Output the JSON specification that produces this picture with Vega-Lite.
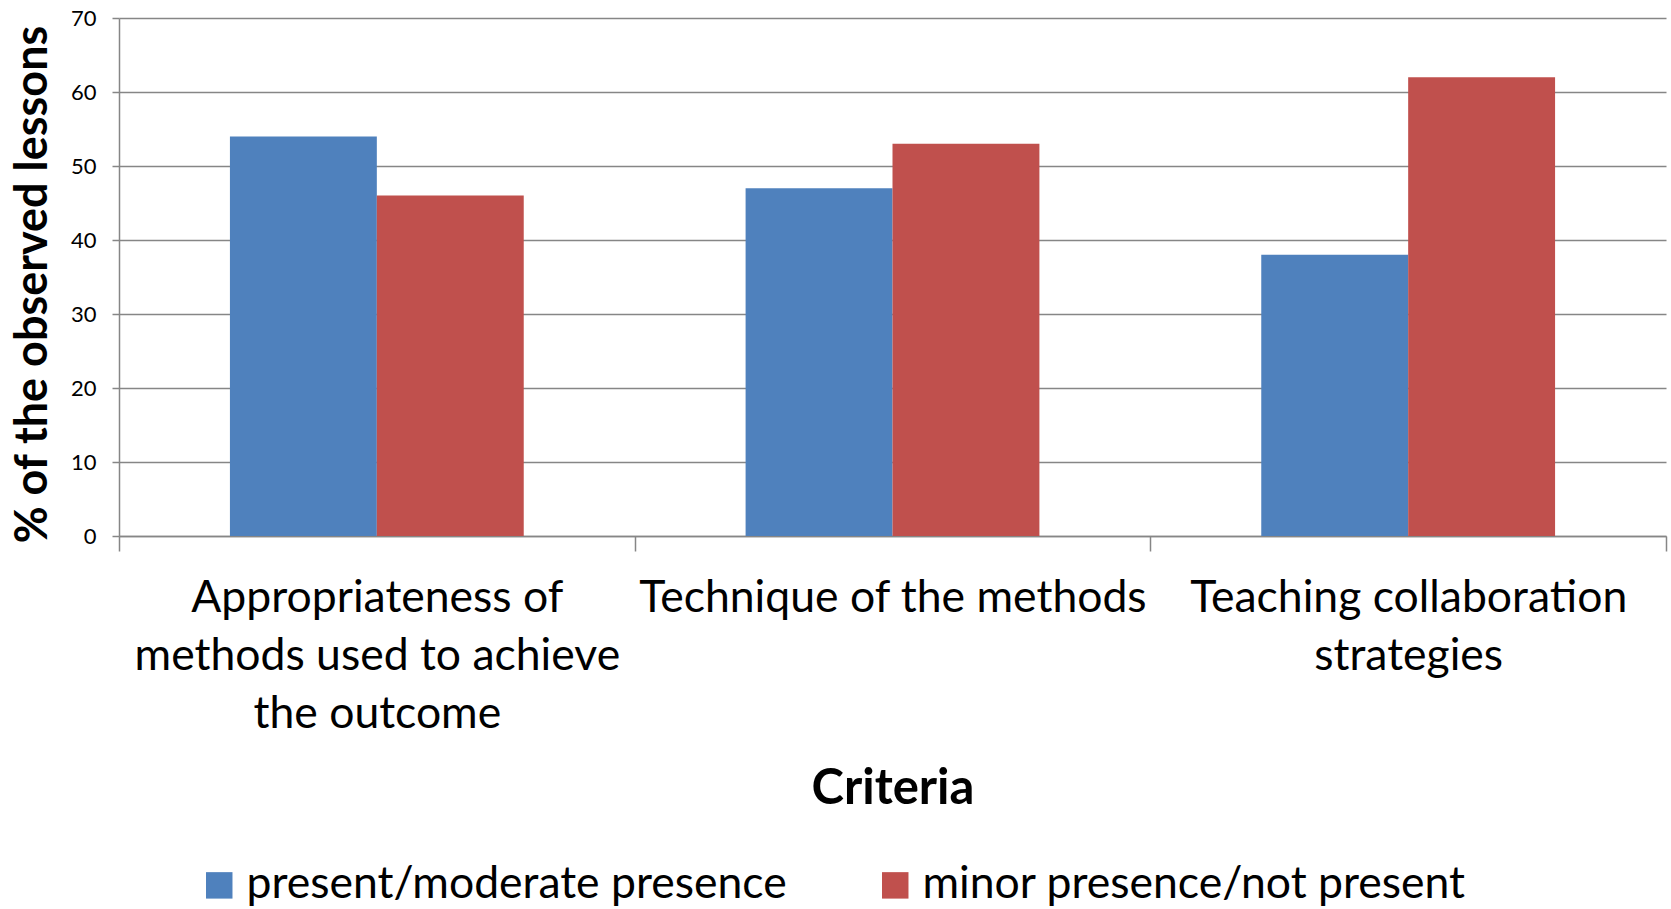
{
  "$schema": "https://vega.github.io/schema/vega-lite/v6.json",
  "width": 1547,
  "height": 518,
  "autosize": {"type": "none"},
  "padding": {"left": 119, "top": 18, "right": 5, "bottom": 373},
  "background": "white",
  "config": {"font": "Lato", "view": {"stroke": null}},
  "data": {
    "values": [
      {"criterion": "Appropriateness of methods used to achieve the outcome", "series": "present/moderate presence", "value": 54},
      {"criterion": "Appropriateness of methods used to achieve the outcome", "series": "minor presence/not present", "value": 46},
      {"criterion": "Technique of the methods", "series": "present/moderate presence", "value": 47},
      {"criterion": "Technique of the methods", "series": "minor presence/not present", "value": 53},
      {"criterion": "Teaching collaboration strategies", "series": "present/moderate presence", "value": 38},
      {"criterion": "Teaching collaboration strategies", "series": "minor presence/not present", "value": 62}
    ]
  },
  "mark": {"type": "bar"},
  "encoding": {
    "x": {
      "field": "criterion",
      "type": "nominal",
      "sort": ["Appropriateness of methods used to achieve the outcome", "Technique of the methods", "Teaching collaboration strategies"],
      "scale": {"paddingInner": 0, "paddingOuter": 0},
      "axis": {
        "title": "Criteria",
        "labelAngle": 0,
        "labelExpr": "datum.label == 'Appropriateness of methods used to achieve the outcome' ? ['Appropriateness of', 'methods used to achieve', 'the outcome'] : datum.label == 'Teaching collaboration strategies' ? ['Teaching collaboration', 'strategies'] : datum.label",
        "labelFont": "Lato",
        "labelFontSize": 44.5,
        "labelColor": "black",
        "labelLineHeight": 58,
        "labelPadding": 25,
        "labelLimit": 0,
        "labelBaseline": "top",
        "tickBand": "extent",
        "tickSize": 15,
        "tickColor": "#868686",
        "tickWidth": 1.5,
        "domainColor": "#868686",
        "domainWidth": 1.5,
        "grid": false,
        "titleFont": "Lato",
        "titleFontSize": 49,
        "titleFontWeight": "bold",
        "titleColor": "black",
        "titleY": 252,
        "titleBaseline": "middle"
      }
    },
    "xOffset": {
      "field": "series",
      "type": "nominal",
      "sort": ["present/moderate presence", "minor presence/not present"],
      "scale": {"paddingInner": 0, "paddingOuter": 0.7551}
    },
    "y": {
      "field": "value",
      "type": "quantitative",
      "scale": {"domain": [0, 70]},
      "axis": {
        "values": [0, 10, 20, 30, 40, 50, 60, 70],
        "title": "% of the observed lessons",
        "titleFont": "Lato",
        "titleFontSize": 45,
        "titleFontWeight": "bold",
        "titleColor": "black",
        "titleX": -87,
        "titleY": 266,
        "titleBaseline": "middle",
        "labelFont": "Lato",
        "labelFontSize": 22,
        "labelColor": "black",
        "labelPadding": 16,
        "tickSize": 7,
        "tickColor": "#868686",
        "tickWidth": 1.5,
        "domainColor": "#868686",
        "domainWidth": 1.5,
        "grid": true,
        "gridColor": "#868686",
        "gridWidth": 1.5
      }
    },
    "color": {
      "field": "series",
      "type": "nominal",
      "sort": ["present/moderate presence", "minor presence/not present"],
      "scale": {"domain": ["present/moderate presence", "minor presence/not present"], "range": ["#4F81BD", "#C0504D"]},
      "legend": {
        "orient": "none",
        "legendX": 78,
        "legendY": 845,
        "direction": "horizontal",
        "title": null,
        "symbolType": "square",
        "symbolSize": 700,
        "symbolStrokeWidth": 0,
        "labelFont": "Lato",
        "labelFontSize": 44.5,
        "labelColor": "black",
        "labelOffset": 5,
        "labelLimit": 0,
        "columnPadding": 86
      }
    }
  }
}
